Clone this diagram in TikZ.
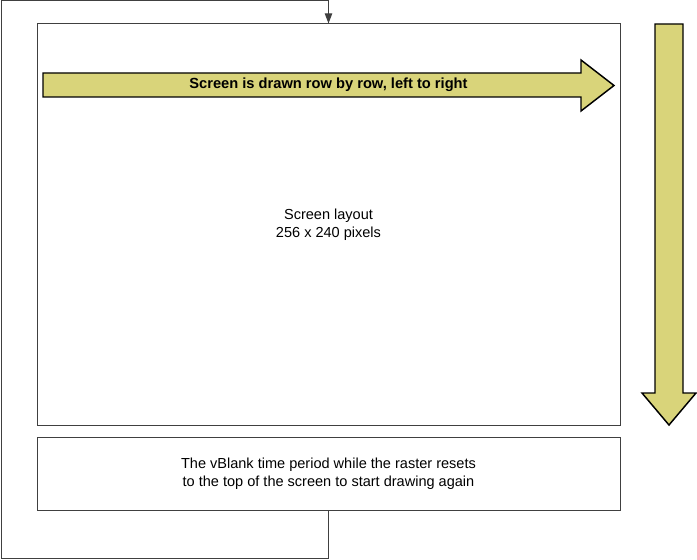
\documentclass[tikz,border=0pt]{standalone}
\usepackage{fontspec}
\setmainfont{Liberation Sans}
\usepackage{xcolor}
\usetikzlibrary{arrows.meta}

\definecolor{arrowfill}{RGB}{217,212,122}
\definecolor{edgegray}{RGB}{64,64,64}

\tikzset{
    panel/.style={draw=edgegray, line width=0.75pt, fill=white, align=center, font=\fontsize{10.9}{13.5}\selectfont},
    bigarrow/.style={draw=black, line width=1.1pt, fill=arrowfill, line join=miter},
}

\begin{document}
\begin{tikzpicture}[x=0.75pt, y=-0.75pt]
        \useasboundingbox (0,0) rectangle (697,560);
        % screen and vblank boxes
        \node[panel, minimum width=583*0.75pt, minimum height=401*0.75pt] (screen) at (328.5,224.5) {Screen layout\\256 x 240 pixels};
        \node[panel, minimum width=583*0.75pt, minimum height=73*0.75pt] (vblank) at (328.5,473.5) {The vBlank time period while the raster resets\\to the top of the screen to start drawing again};
        % loop back to the top
        \draw[edgegray, line width=0.75pt, -{Triangle[length=7.5pt, width=5.5pt]}] (vblank.south) -- ++(0,48) -| (1,1) -| (screen.north);
        % row arrow
        \draw[bigarrow] (43,73) -- (581,73) -- (581,60) -- (614,85.5) -- (581,111) -- (581,97) -- (43,97) -- cycle;
        \node[font=\bfseries\fontsize{11}{13}\selectfont] (rowtext) at (328.5,85) {Screen is drawn row by row, left to right};
        % column arrow
        \draw[bigarrow] (655,24) -- (683,24) -- (683,393) -- (696,393) -- (669,425) -- (642,393) -- (655,393) -- cycle;
    \end{tikzpicture}
\end{document}
